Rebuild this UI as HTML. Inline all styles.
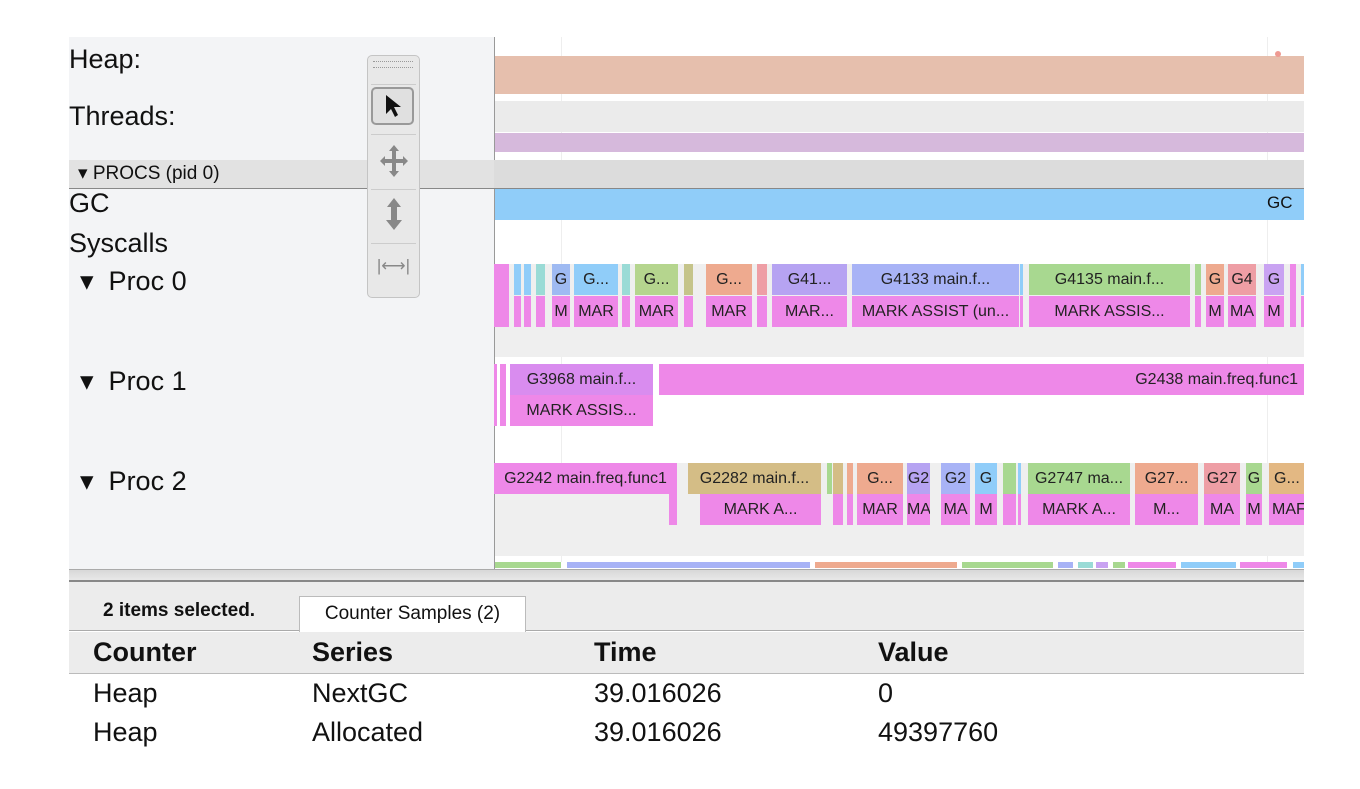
<!DOCTYPE html>
<html><head><meta charset="utf-8"><style>
*{margin:0;padding:0;box-sizing:border-box}
body{width:1360px;height:789px;background:#fff;position:relative;overflow:hidden;font-family:"Liberation Sans",Arial,sans-serif;color:#111}
.a{position:absolute}
.s{position:absolute;font-size:16px;line-height:31px;height:31px;text-align:center;white-space:nowrap;overflow:hidden;color:#222}
.lbl{position:absolute;font-size:27px;color:#111}
.m{background:#ee88e8}
.t{position:absolute;font-size:27px}
</style></head><body>
<div class="a" style="left:69px;top:37px;width:425px;height:532px;background:#f3f4f6"></div>
<div class="a" style="left:494px;top:37px;width:1px;height:532px;background:#999"></div>
<div class="a" style="left:561px;top:37px;width:1px;height:525px;background:#eee"></div>
<div class="a" style="left:1267px;top:37px;width:1px;height:525px;background:#eee"></div>
<div class="lbl" style="left:69px;top:44px">Heap:</div>
<div class="lbl" style="left:69px;top:101px">Threads:</div>
<div class="a" style="left:495px;top:56px;width:809px;height:38px;background:#e6bfad"></div>
<div class="a" style="left:1275px;top:51px;width:6px;height:6px;border-radius:3px;background:#ee9a92"></div>
<div class="a" style="left:495px;top:101px;width:809px;height:31px;background:#ebebeb"></div>
<div class="a" style="left:495px;top:133px;width:809px;height:19px;background:#d6b9dc"></div>
<div class="a" style="left:69px;top:160px;width:1235px;height:29px;background:#dcdcdc;border-bottom:1px solid #888"></div>
<div class="a" style="left:69px;top:160px;width:425px;height:28px;background:#e2e2e2"></div>
<div class="a" style="left:78px;top:162px;font-size:19px;color:#111">▾ PROCS (pid 0)</div>
<div class="lbl" style="left:69px;top:188px">GC</div>
<div class="a" style="left:495px;top:189px;width:809px;height:31px;background:#90cdf9"></div>
<div class="a" style="left:1267px;top:193px;font-size:17px">GC</div>
<div class="lbl" style="left:69px;top:228px">Syscalls</div>
<div class="lbl" style="left:80px;top:266px">▾&nbsp; Proc 0</div>
<div class="lbl" style="left:80px;top:366px">▾&nbsp; Proc 1</div>
<div class="lbl" style="left:80px;top:466px">▾&nbsp; Proc 2</div>
<div class="a" style="left:495px;top:264px;width:809px;height:93px;background:#efefef"></div>
<div class="a" style="left:495px;top:463px;width:809px;height:93px;background:#efefef"></div>
<!-- Proc 0 -->
<div class="s m" style="left:494px;top:264px;width:15px;height:63px"></div>
<div class="s" style="left:514px;top:264px;width:7px;background:#90cdf9"></div><div class="s m" style="left:514px;top:296px;width:7px"></div>
<div class="s" style="left:524px;top:264px;width:7px;background:#90cdf9"></div><div class="s m" style="left:524px;top:296px;width:7px"></div>
<div class="s" style="left:536px;top:264px;width:9px;background:#9adbd6"></div><div class="s m" style="left:536px;top:296px;width:9px"></div>
<div class="s" style="left:552px;top:264px;width:18px;background:#9fbaf2">G</div><div class="s m" style="left:552px;top:296px;width:18px">M</div>
<div class="s" style="left:574px;top:264px;width:44px;background:#90cdf9">G...</div><div class="s m" style="left:574px;top:296px;width:44px">MAR</div>
<div class="s" style="left:622px;top:264px;width:8px;background:#9adbd6"></div><div class="s m" style="left:622px;top:296px;width:8px"></div>
<div class="s" style="left:635px;top:264px;width:43px;background:#b5d58e">G...</div><div class="s m" style="left:635px;top:296px;width:43px">MAR</div>
<div class="s" style="left:684px;top:264px;width:9px;background:#c5c48a"></div><div class="s m" style="left:684px;top:296px;width:9px"></div>
<div class="s" style="left:706px;top:264px;width:46px;background:#eeaa8f">G...</div><div class="s m" style="left:706px;top:296px;width:46px">MAR</div>
<div class="s" style="left:757px;top:264px;width:10px;background:#ee9ea5"></div><div class="s m" style="left:757px;top:296px;width:10px"></div>
<div class="s" style="left:772px;top:264px;width:75px;background:#b6a3f2">G41...</div><div class="s m" style="left:772px;top:296px;width:75px">MAR...</div>
<div class="s" style="left:852px;top:264px;width:167px;background:#a8b3f6">G4133 main.f...</div><div class="s m" style="left:852px;top:296px;width:167px">MARK ASSIST (un...</div>
<div class="s" style="left:1020px;top:264px;width:3px;background:#90cdf9"></div><div class="s m" style="left:1020px;top:296px;width:3px"></div>
<div class="s" style="left:1029px;top:264px;width:161px;background:#a8d890">G4135 main.f...</div><div class="s m" style="left:1029px;top:296px;width:161px">MARK ASSIS...</div>
<div class="s" style="left:1195px;top:264px;width:6px;background:#a8d890"></div><div class="s m" style="left:1195px;top:296px;width:6px"></div>
<div class="s" style="left:1206px;top:264px;width:18px;background:#eeaa8f">G</div><div class="s m" style="left:1206px;top:296px;width:18px">M</div>
<div class="s" style="left:1228px;top:264px;width:28px;background:#ee9ea5">G4</div><div class="s m" style="left:1228px;top:296px;width:28px">MA</div>
<div class="s" style="left:1264px;top:264px;width:20px;background:#c9a3f2">G</div><div class="s m" style="left:1264px;top:296px;width:20px">M</div>
<div class="s m" style="left:1290px;top:264px;width:6px;height:63px"></div>
<div class="s" style="left:1301px;top:264px;width:3px;background:#90cdf9"></div><div class="s m" style="left:1301px;top:296px;width:3px"></div>
<!-- Proc 1 -->
<div class="s m" style="left:494px;top:364px;width:3px;height:62px"></div>
<div class="s m" style="left:500px;top:364px;width:6px;height:62px"></div>
<div class="s" style="left:510px;top:364px;width:143px;background:#d98cef">G3968 main.f...</div><div class="s m" style="left:510px;top:395px;width:143px">MARK ASSIS...</div>
<div class="s m" style="left:659px;top:364px;width:645px;text-align:right;padding-right:6px">G2438 main.freq.func1</div>
<!-- Proc 2 -->
<div class="s m" style="left:494px;top:463px;width:183px">G2242 main.freq.func1</div>
<div class="s m" style="left:669px;top:494px;width:8px"></div>
<div class="s" style="left:688px;top:463px;width:133px;background:#d4bd86">G2282 main.f...</div><div class="s m" style="left:700px;top:494px;width:121px">MARK A...</div>
<div class="s" style="left:827px;top:463px;width:5px;background:#a8d890"></div>
<div class="s" style="left:833px;top:463px;width:10px;background:#d4bd86"></div><div class="s m" style="left:833px;top:494px;width:10px"></div>
<div class="s" style="left:847px;top:463px;width:6px;background:#eeaa8f"></div><div class="s m" style="left:847px;top:494px;width:6px"></div>
<div class="s" style="left:857px;top:463px;width:46px;background:#eeaa8f">G...</div><div class="s m" style="left:857px;top:494px;width:46px">MAR</div>
<div class="s" style="left:907px;top:463px;width:23px;background:#b6a3f2">G2</div><div class="s m" style="left:907px;top:494px;width:23px">MA</div>
<div class="s" style="left:941px;top:463px;width:29px;background:#a8b3f6">G2</div><div class="s m" style="left:941px;top:494px;width:29px">MA</div>
<div class="s" style="left:975px;top:463px;width:22px;background:#90cdf9">G</div><div class="s m" style="left:975px;top:494px;width:22px">M</div>
<div class="s" style="left:1003px;top:463px;width:13px;background:#a8d890"></div><div class="s m" style="left:1003px;top:494px;width:13px"></div>
<div class="s" style="left:1018px;top:463px;width:3px;background:#90cdf9"></div><div class="s m" style="left:1018px;top:494px;width:3px"></div>
<div class="s" style="left:1028px;top:463px;width:102px;background:#a8d890">G2747 ma...</div><div class="s m" style="left:1028px;top:494px;width:102px">MARK A...</div>
<div class="s" style="left:1135px;top:463px;width:63px;background:#eeaa8f">G27...</div><div class="s m" style="left:1135px;top:494px;width:63px">M...</div>
<div class="s" style="left:1204px;top:463px;width:36px;background:#ee9ea5">G27</div><div class="s m" style="left:1204px;top:494px;width:36px">MA</div>
<div class="s" style="left:1246px;top:463px;width:16px;background:#a8d890">G</div><div class="s m" style="left:1246px;top:494px;width:16px">M</div>
<div class="s" style="left:1269px;top:463px;width:35px;background:#e3b883;text-align:left;padding-left:5px">G...</div><div class="s m" style="left:1269px;top:494px;width:35px;text-align:left;padding-left:3px">MAF</div>
<!-- bottom strip -->
<div class="a" style="left:495px;top:562px;width:66px;height:6px;background:#a8d890"></div>
<div class="a" style="left:567px;top:562px;width:243px;height:6px;background:#a8b3f6"></div>
<div class="a" style="left:815px;top:562px;width:142px;height:6px;background:#eeaa8f"></div>
<div class="a" style="left:962px;top:562px;width:91px;height:6px;background:#a8d890"></div>
<div class="a" style="left:1058px;top:562px;width:15px;height:6px;background:#a8b3f6"></div>
<div class="a" style="left:1078px;top:562px;width:15px;height:6px;background:#9adbd6"></div>
<div class="a" style="left:1096px;top:562px;width:12px;height:6px;background:#c9a3f2"></div>
<div class="a" style="left:1113px;top:562px;width:12px;height:6px;background:#a8d890"></div>
<div class="a" style="left:1128px;top:562px;width:48px;height:6px;background:#ee88e8"></div>
<div class="a" style="left:1181px;top:562px;width:55px;height:6px;background:#90cdf9"></div>
<div class="a" style="left:1240px;top:562px;width:47px;height:6px;background:#ee88e8"></div>
<div class="a" style="left:1293px;top:562px;width:11px;height:6px;background:#90cdf9"></div>
<!-- toolbar -->
<div class="a" style="left:367px;top:55px;width:53px;height:243px;background:#e8e8e8;border:1px solid #c4c4c4;border-radius:5px"></div>
<div class="a" style="left:373px;top:61px;width:40px;height:7px;border-top:1px dotted #999;border-bottom:1px dotted #999"></div>
<div class="a" style="left:371px;top:84px;width:45px;height:1px;background:#ccc"></div>
<div class="a" style="left:371px;top:87px;width:43px;height:38px;background:#e0e0e0;border:2px solid #999;border-radius:5px"></div>
<svg class="a" style="left:371px;top:87px" width="43" height="38"><path d="M15 8 L15 27 L20 22 L24 30 L27 28 L23 20 L30 20 Z" fill="#111"/></svg>
<div class="a" style="left:371px;top:134px;width:45px;height:1px;background:#ccc"></div>
<svg class="a" style="left:380px;top:145px" width="28" height="32"><g fill="#888"><rect x="12" y="5" width="4" height="22"/><rect x="3" y="14" width="22" height="4"/><path d="M14 0 L19 6 L9 6Z M14 32 L19 26 L9 26Z M0 16 L5 11 L5 21Z M28 16 L23 11 L23 21Z"/></g></svg>
<div class="a" style="left:371px;top:189px;width:45px;height:1px;background:#ccc"></div>
<svg class="a" style="left:384px;top:198px" width="20" height="32"><g fill="#888"><rect x="7" y="7" width="6" height="18"/><path d="M10 0 L17 9 L3 9Z M10 32 L18 22 L2 22Z"/></g></svg>
<div class="a" style="left:371px;top:243px;width:45px;height:1px;background:#ccc"></div>
<div class="a" style="left:367px;top:256px;width:53px;text-align:center;font-size:17px;color:#888">|⟷|</div>
<!-- splitter -->
<div class="a" style="left:69px;top:569px;width:1235px;height:13px;background:linear-gradient(#d8d8d8,#e8e8e8);border-top:1px solid #aaa;border-bottom:2px solid #888"></div>
<div class="a" style="left:69px;top:582px;width:1235px;height:49px;background:#ececec;border-bottom:1px solid #aaa"></div>
<div class="a" style="left:103px;top:600px;font-size:19px;font-weight:bold">2 items selected.</div>
<div class="a" style="left:299px;top:596px;width:227px;height:36px;background:#fff;border:1px solid #bbb;border-bottom:none;font-size:19px;text-align:center;line-height:34px">Counter Samples (2)</div>
<div class="a" style="left:69px;top:632px;width:1235px;height:42px;background:#ececec;border-bottom:1px solid #bbb"></div>
<div class="t" style="left:93px;top:637px;font-weight:bold">Counter</div>
<div class="t" style="left:312px;top:637px;font-weight:bold">Series</div>
<div class="t" style="left:594px;top:637px;font-weight:bold">Time</div>
<div class="t" style="left:878px;top:637px;font-weight:bold">Value</div>
<div class="t" style="left:93px;top:678px">Heap</div>
<div class="t" style="left:312px;top:678px">NextGC</div>
<div class="t" style="left:594px;top:678px">39.016026</div>
<div class="t" style="left:878px;top:678px">0</div>
<div class="t" style="left:93px;top:717px">Heap</div>
<div class="t" style="left:312px;top:717px">Allocated</div>
<div class="t" style="left:594px;top:717px">39.016026</div>
<div class="t" style="left:878px;top:717px">49397760</div>
</body></html>
